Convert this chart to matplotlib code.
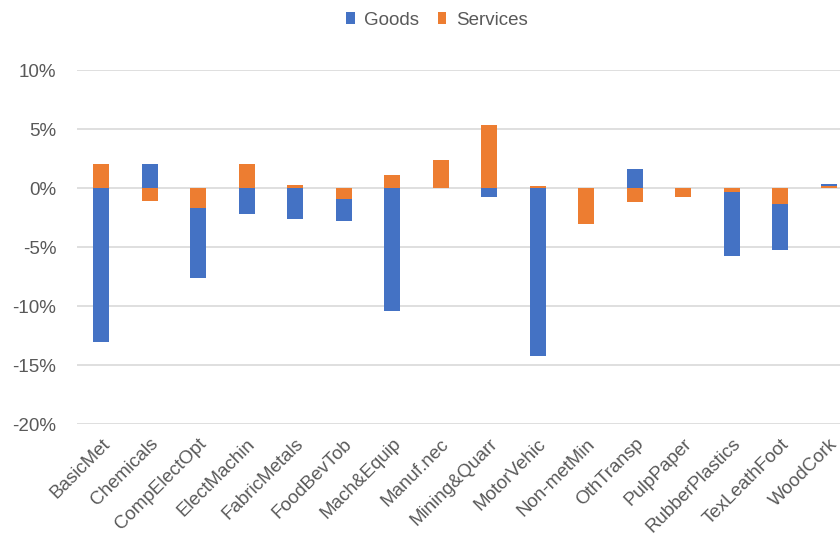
import numpy as np
import matplotlib.pyplot as plt
from matplotlib.ticker import PercentFormatter

plt.rcParams['font.family'] = ['Liberation Sans', 'DejaVu Sans']
plt.rcParams['axes.unicode_minus'] = False

sectors = ['BasicMet', 'Chemicals', 'CompElectOpt', 'ElectMachin', 'FabricMetals',
           'FoodBevTob', 'Mach&Equip', 'Manuf.nec', 'Mining&Quarr', 'MotorVehic',
           'Non-metMin', 'OthTransp', 'PulpPaper', 'RubberPlastics', 'TexLeathFoot',
           'WoodCork']
goods = [-13.0, 2.1, -5.9, -2.15, -2.6, -1.9, -10.4, 0.0, -0.75, -14.2,
         0.0, 1.6, 0.0, -5.35, -3.85, 0.15]
services = [2.1, -1.05, -1.7, 2.1, 0.25, -0.9, 1.15, 2.4, 5.35, 0.2,
            -3.05, -1.2, -0.7, -0.35, -1.35, 0.2]

blue = '#4472C4'
orange = '#ED7D31'
grey = '#595959'
fs = 13.5

x = np.arange(len(sectors))
g = np.array(goods)
s = np.array(services)
# goods sit on top of services only when both go the same way
g_bottom = np.where(np.sign(g) == np.sign(s), s, 0.0)

fig = plt.figure(figsize=(8.4, 5.45), dpi=100)
ax = fig.add_axes([77 / 840, 120.7 / 545, 776 / 840, 354 / 545])

w = 0.33
ax.bar(x, s, w, color=orange, label='Services', zorder=3)
ax.bar(x, g, w, bottom=g_bottom, color=blue, label='Goods', zorder=3)

ax.set_ylim(-20, 10)
ax.set_xlim(-0.5, len(sectors) - 0.5)
ax.set_yticks(np.arange(-20, 11, 5))
ax.yaxis.set_major_formatter(PercentFormatter(decimals=0))
ax.grid(axis='y', color='#D9D9D9', linewidth=1.2, zorder=0)
for sp in ax.spines.values():
    sp.set_visible(False)
ax.tick_params(length=0, labelsize=fs, colors=grey)
ax.tick_params(axis='y', pad=15)
ax.tick_params(axis='x', pad=8)
ax.set_xticks(x)
ax.set_xticklabels(sectors, rotation=45, ha='right', va='top',
                   rotation_mode='anchor')

h, l = ax.get_legend_handles_labels()
fig.legend(h[::-1], l[::-1], loc='center', bbox_to_anchor=(0.52, 0.963), ncol=2,
           frameon=False, fontsize=fs, labelcolor=grey, handlelength=0.45,
           handleheight=0.55, handletextpad=0.5, columnspacing=1.0)

fig.savefig('out.png')
